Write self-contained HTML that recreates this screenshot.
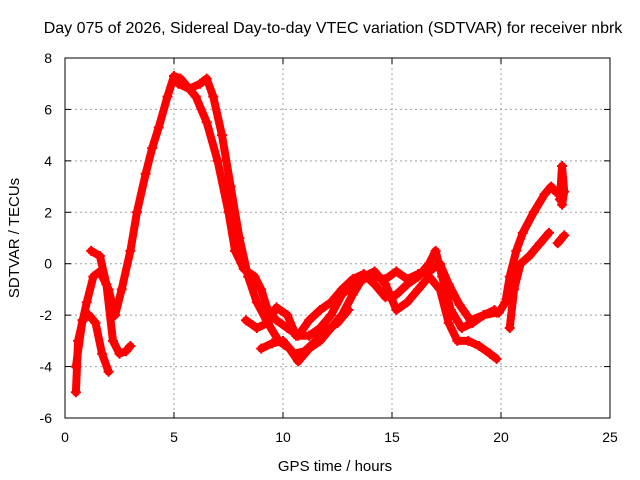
<!DOCTYPE html>
<html><head><meta charset="utf-8"><style>
html,body{margin:0;padding:0;background:#fff;}
svg{display:block;font-family:"Liberation Sans",sans-serif;}
</style></head><body>
<svg id="chart" width="640" height="480" viewBox="0 0 640 480">
<text x="333" y="33" font-size="16" text-anchor="middle" fill="#000">Day 075 of 2026, Sidereal Day-to-day VTEC variation (SDTVAR) for receiver nbrk</text>
<text x="335" y="471" font-size="15" text-anchor="middle">GPS time / hours</text>
<text x="0" y="0" font-size="15" text-anchor="middle" transform="translate(19,238) rotate(-90)">SDTVAR / TECUs</text>
<g id="grid"></g><g id="ticks"></g><g id="series"></g>
<rect x="65" y="58" width="545" height="360" fill="none" stroke="#000" stroke-width="1"/>
</svg>
<script>
const xTicks=[0,5,10,15,20,25];
const yTicks=[-6,-4,-2,0,2,4,6,8];
const tracks=[
[[0.5,-5],[0.6,-3],[1.0,-1.5],[1.3,-0.5],[1.6,-0.3],[2.0,-1],[2.3,-2],[2.6,-1],[3.0,0.5],[3.3,2],[3.7,3.5],[4.0,4.5],[4.3,5.3],[4.7,6.5],[5.0,7.3],[5.3,7.2],[5.7,6.8],[6.0,6.5],[6.5,5.5],[7.0,4],[7.5,2],[7.8,0.5],[8.2,-0.2],[8.7,-0.5],[9.0,-1],[9.3,-1.8],[9.7,-2.2],[10.2,-2.5],[10.7,-2.8],[11.2,-2.2],[11.7,-1.8],[12.2,-1.5],[12.7,-1],[13.2,-0.6],[13.7,-0.4],[14.2,-0.8],[14.7,-1.3],[15.2,-1.2],[15.7,-0.8],[16.2,-0.5],[16.7,0],[17.0,0.5],[17.3,-0.5],[17.7,-1.8],[18.2,-2.5],[18.7,-2.3],[19.2,-2],[19.7,-1.8]],
[[0.5,-4],[0.8,-2.2],[1.1,-2],[1.4,-2.3],[1.7,-3.5],[2.0,-4.2]],
[[1.2,0.5],[1.6,0.3],[1.9,-0.8],[2.2,-3],[2.5,-3.5],[2.8,-3.4],[3.0,-3.2]],
[[5.2,7],[5.7,6.8],[6.2,7],[6.5,7.2],[6.8,6.5],[7.2,5],[7.6,3],[8.0,1],[8.4,-0.5],[8.8,-1.5],[9.3,-2.3],[9.8,-3],[10.3,-3.3],[10.7,-3.8],[11.2,-3.3],[11.7,-3],[12.2,-2.5],[12.7,-2],[13.2,-1.2],[13.7,-0.5],[14.2,-0.3],[14.7,-0.8],[15.2,-1.8],[15.7,-1.5],[16.2,-1],[16.7,-0.5],[17.2,-1],[17.6,-2.3],[18.0,-3],[18.5,-3],[19.0,-3.2],[19.5,-3.5],[19.8,-3.7]],
[[8.3,-2.2],[8.8,-2.5],[9.3,-2.3],[9.7,-1.7],[10.2,-2],[10.6,-2.8],[11.2,-2.8],[11.7,-2.5],[12.2,-2],[12.7,-1.2],[13.2,-0.8],[13.7,-0.6],[14.2,-0.5],[14.7,-0.6],[15.2,-0.3],[15.7,-0.6],[16.2,-0.4],[16.7,-0.3],[17.2,0],[17.6,-0.8],[18.1,-1.6],[18.6,-2.2],[19.2,-2],[19.8,-1.9]],
[[9.0,-3.3],[9.5,-3.1],[10.0,-3],[10.5,-3.5],[11.0,-3.4],[11.5,-3],[12.0,-2.6],[12.5,-2.3],[13.0,-1.8]],
[[19.9,-1.9],[20.2,-1.5],[20.4,-0.5],[20.7,0.5],[21.0,1.2],[21.5,2],[22.0,2.7],[22.3,3],[22.5,2.8]],
[[20.4,-2.5],[20.6,-1],[20.9,0],[21.3,0.3],[21.8,0.8],[22.2,1.2]],
[[22.7,2.5],[22.8,3.8],[22.9,2.8],[22.8,2.3]],
[[22.6,0.8],[22.9,1.1]]
];
const NS='http://www.w3.org/2000/svg';
const L=65,R=610,T=58,B=418;
function xs(v){return L+(v-0)/25*(R-L);}
function ys(v){return B-(v+6)/14*(B-T);}
const grid=document.getElementById('grid'),ticks=document.getElementById('ticks'),series=document.getElementById('series');
function mk(tag,attrs,parent){const e=document.createElementNS(NS,tag);for(const k in attrs)e.setAttribute(k,attrs[k]);parent.appendChild(e);return e;}
xTicks.forEach(t=>{
  const x=xs(t);
  if(t>0&&t<25){const g=mk('line',{x1:x,x2:x,y1:T,y2:B,stroke:'#a0a0a0','stroke-dasharray':'2,3'},grid);
  
  }
  const tx=mk('text',{x:x,y:B+24,'font-size':14,'text-anchor':'middle'},ticks);tx.textContent=t;
  
  
  mk('line',{x1:x,x2:x,y1:B,y2:B-6,stroke:'#000'},ticks);
  mk('line',{x1:x,x2:x,y1:T,y2:T+6,stroke:'#000'},ticks);
});
yTicks.forEach(t=>{
  const y=ys(t);
  if(t>-6&&t<8){const g=mk('line',{x1:L,x2:R,y1:y,y2:y,stroke:'#a0a0a0','stroke-dasharray':'2,3'},grid);
  
  }
  const tx=mk('text',{x:L-13,y:y+5,'font-size':14,'text-anchor':'end'},ticks);tx.textContent=t;
  
  
  mk('line',{x1:L,x2:L+6,y1:y,y2:y,stroke:'#000'},ticks);
  mk('line',{x1:R,x2:R-6,y1:y,y2:y,stroke:'#000'},ticks);
});
tracks.forEach((tr,i)=>{
  const pts=tr.map(p=>xs(p[0])+','+ys(p[1])).join(' ');
  const pl=mk('polyline',{points:pts,fill:'none',stroke:'#ff0000','stroke-width':8,'stroke-linejoin':'round','stroke-linecap':'round'},series);
  
  
  tr.forEach(p=>{
    const x=xs(p[0]),y=ys(p[1]);
    const m=mk('path',{d:`M${x-5},${y}H${x+5}M${x},${y-5}V${y+5}`,stroke:'#ff0000','stroke-width':2},series);
    
    
  });
});
</script>
</body></html>
